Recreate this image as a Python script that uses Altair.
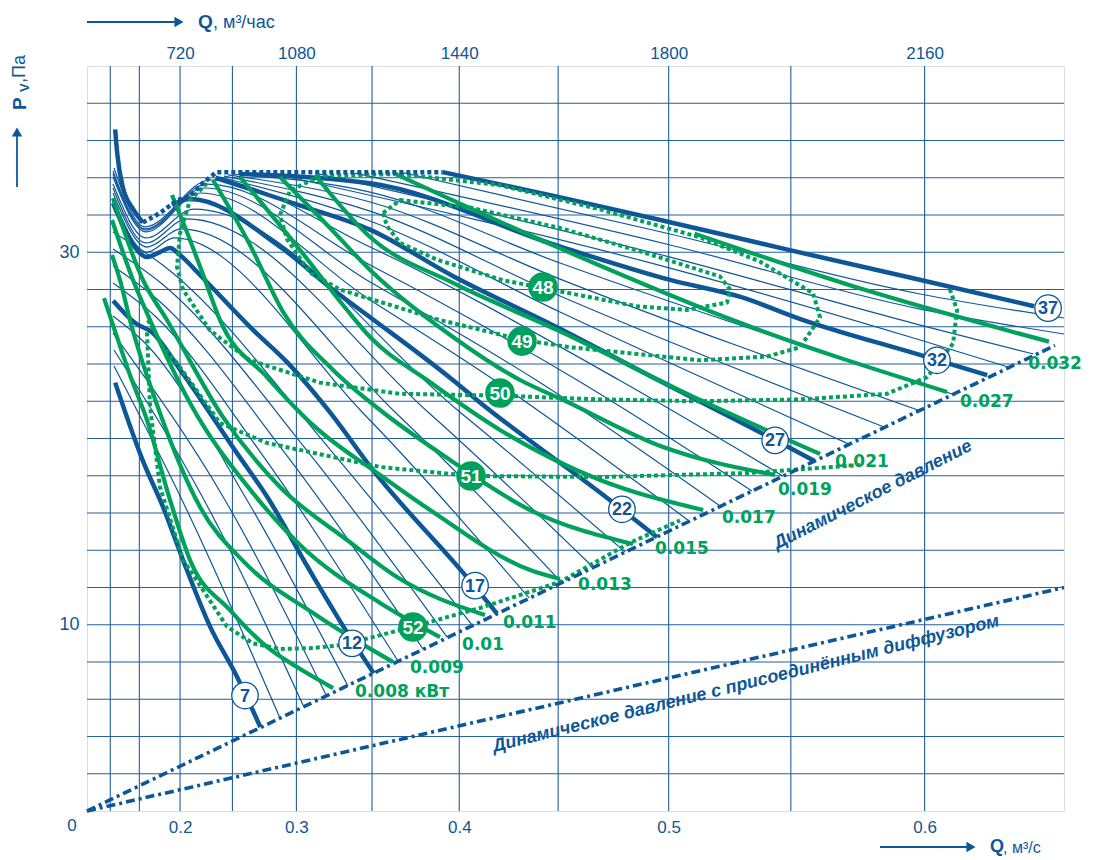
import altair as alt
import pandas as pd

BLUE = "#0d5797"
GREEN = "#00a15c"
GRID = "#245f9e"
FONT = "Liberation Sans"

X_MAX = 0.648
Y_MAX = 40

GRID_Q = [0.1, 0.15, 0.2, 0.25, 0.3, 0.35, 0.4, 0.45, 0.5, 0.55, 0.6]
GRID_P = [2, 4, 6, 8, 10, 12, 14, 16, 18, 20, 22, 24, 26, 28, 30, 32, 34, 36, 38]
BOTTOM_TICKS = [0.2, 0.3, 0.4, 0.5, 0.6]
LEFT_TICKS = [10, 30]

# thick fan curves (setting -> Q m3/s, Pv Pa)
FAN_THICK = {
    "37a": ([0.110, 0.114, 0.124, 0.141, 0.155], [36.6, 35.3, 33.5, 32.3, 31.6]),
    "37b": ([0.391, 0.449, 0.501, 0.550, 0.599, 0.638], [34.3, 33.0, 31.6, 30.1, 28.5, 27.1]),
    "32": ([0.256, 0.349, 0.451, 0.501, 0.530, 0.554, 0.598, 0.622],
           [34.2, 33.7, 30.3, 28.5, 27.6, 26.4, 24.5, 23.4]),
    "27": ([0.235, 0.303, 0.349, 0.397, 0.449, 0.496, 0.544, 0.559],
           [34.0, 32.5, 31.2, 28.7, 26.0, 23.1, 19.9, 18.8]),
    "22": ([0.1911, 0.2104, 0.288, 0.325, 0.349, 0.397, 0.409, 0.474, 0.495],
           [32.54, 32.86, 30.3, 28.0, 26.5, 23.1, 22.1, 16.7, 14.7]),
    "17": ([0.1057, 0.1278, 0.1466, 0.1606, 0.1771, 0.1889, 0.1999, 0.2204, 0.2671, 0.2932,
            0.3232, 0.3506, 0.402, 0.4198],
           [32.64, 31.19, 30.12, 29.74, 30.01, 30.23, 29.85, 28.78, 25.83, 24.1, 21.4, 18.3,
            12.8, 10.6]),
    "12": ([0.106, 0.144, 0.167, 0.200, 0.254, 0.278, 0.308, 0.332, 0.351],
           [27.4, 26.2, 25.7, 23.7, 19.2, 16.9, 13.1, 9.9, 7.4]),
    "7": ([0.110, 0.155, 0.181, 0.203, 0.230, 0.254, 0.273],
          [23.0, 18.8, 16.3, 13.5, 9.9, 7.2, 4.5]),
}

# thin fan curves for the intermediate settings
FAN_THIN = {
    "8": ([0.1077, 0.2021, 0.2880], [23.89, 16.70, 4.99]),
    "9": ([0.1077, 0.2243, 0.3047], [24.75, 16.70, 5.69]),
    "10": ([0.1057, 0.2435, 0.3212], [25.66, 16.70, 6.12]),
    "11": ([0.1057, 0.1579, 0.2622, 0.3349], [26.58, 25.13, 16.70, 6.71]),
    "13": ([0.1057, 0.1710, 0.2735, 0.3656], [28.35, 26.58, 19.22, 8.05]),
    "14": ([0.1057, 0.1747, 0.2917, 0.3800], [29.26, 27.44, 19.22, 8.70]),
    "15": ([0.1057, 0.1783, 0.3089, 0.3934], [30.17, 28.35, 19.22, 9.34]),
    "16": ([0.1057, 0.1819, 0.3252, 0.4068], [31.09, 29.26, 19.22, 9.99]),
    "18": ([0.1057, 0.1606, 0.1934, 0.3444, 0.4359], [32.91, 30.01, 30.77, 21.37, 11.44]),
    "19": ([0.1057, 0.1606, 0.2010, 0.3644, 0.4514], [33.18, 30.28, 31.25, 21.37, 12.30]),
    "20": ([0.1057, 0.1592, 0.2073, 0.3834, 0.4663], [33.45, 30.50, 31.79, 21.37, 13.10]),
    "21": ([0.1057, 0.1592, 0.2145, 0.4009, 0.4809], [33.66, 30.77, 32.32, 21.37, 13.91]),
    "23": ([0.1057, 0.1592, 0.2204, 0.3488, 0.4183, 0.5087], [34.04, 31.09, 33.18, 27.44, 23.14, 15.57]),
    "24": ([0.1057, 0.1592, 0.2243, 0.3488, 0.4393, 0.5216], [34.20, 31.19, 33.45, 28.40, 23.14, 16.38]),
    "25": ([0.1057, 0.1579, 0.2271, 0.3488, 0.4589, 0.5346], [34.36, 31.25, 33.66, 29.32, 23.14, 17.18]),
    "26": ([0.1077, 0.1579, 0.2299, 0.3488, 0.4782, 0.5469], [34.52, 31.36, 33.88, 30.28, 23.14, 17.99]),
    "28": ([0.2391, 0.3488, 0.4509, 0.5723], [34.04, 31.68, 26.79, 19.70]),
    "29": ([0.2427, 0.3488, 0.4509, 0.5853], [34.09, 32.21, 27.65, 20.62]),
    "30": ([0.2462, 0.3488, 0.4509, 0.5976], [34.15, 32.70, 28.56, 21.53]),
    "31": ([0.2497, 0.3488, 0.4509, 0.6098], [34.20, 33.23, 29.42, 22.39]),
    "33": ([0.2843, 0.5006, 0.5984, 0.6292], [34.20, 29.15, 25.29, 23.84]),
    "34": ([0.3131, 0.5006, 0.5984, 0.6377], [34.25, 29.74, 26.09, 24.54]),
    "35": ([0.3394, 0.5006, 0.5984, 0.6480], [34.25, 30.39, 26.95, 25.61]),
    "36": ([0.3668, 0.5006, 0.5984, 0.6480], [34.31, 30.98, 27.76, 26.47]),
}

ENVELOPE_Q = [0.155, 0.177, 0.197, 0.210, 0.223, 0.236, 0.391]
ENVELOPE_P = [31.6, 32.1, 32.8, 33.0, 33.7, 34.3, 34.3]

FAN_LABELS = ["7", "12", "17", "22", "27", "32", "37"]
FAN_LABEL_Q = [0.2606, 0.3375, 0.4084, 0.4795, 0.5438, 0.6044, 0.6427]
FAN_LABEL_P = [6.2, 9.0, 12.1, 16.2, 19.9, 24.2, 27.0]

# power curves (kW)
POWER = {
    "0.008": ([0.0855, 0.1057, 0.1359, 0.1606, 0.1889, 0.2104, 0.2479, 0.2781, 0.3004, 0.3252],
              [27.54, 26.09, 23.41, 20.99, 16.70, 13.48, 10.79, 8.81, 7.73, 6.60]),
    "0.009": ([0.1037, 0.1191, 0.1359, 0.1771, 0.2204, 0.2606, 0.3117, 0.3469, 0.3627],
              [29.85, 28.51, 26.36, 21.37, 16.32, 13.32, 10.63, 8.81, 8.0]),
    "0.01": ([0.1037, 0.1406, 0.1646, 0.2104, 0.2671, 0.3026, 0.3549, 0.3895],
             [31.73, 28.51, 26.36, 21.91, 17.07, 14.28, 11.17, 9.34]),
    "0.011": ([0.1057, 0.1551, 0.1854, 0.2418, 0.2880, 0.3343, 0.3650, 0.4136],
              [32.91, 28.51, 26.36, 21.15, 17.40, 14.55, 12.56, 10.52]),
    "0.013": ([0.1911, 0.2104, 0.2252, 0.2391, 0.2781, 0.3117, 0.3549, 0.3840, 0.4364, 0.4509],
              [33.07, 30.66, 28.51, 26.36, 23.30, 20.72, 18.04, 16.16, 12.94, 12.46]),
    "0.015": ([0.2327, 0.2647, 0.2903, 0.3252, 0.3549, 0.3950, 0.4364, 0.4844],
              [33.88, 30.39, 26.79, 23.68, 21.53, 18.85, 16.16, 14.34]),
    "0.017": ([0.2564, 0.3026, 0.3343, 0.3488, 0.3823, 0.4213, 0.4696, 0.5146],
              [34.04, 30.12, 26.90, 25.45, 23.14, 20.46, 17.77, 16.16]),
    "0.019": ([0.2880, 0.3232, 0.3488, 0.3966, 0.4314, 0.4523, 0.4976, 0.5438],
              [34.04, 31.30, 29.05, 25.45, 23.14, 22.07, 19.54, 18.04]),
    "0.021": ([0.3131, 0.3488, 0.3966, 0.4494, 0.5133, 0.5613],
              [34.15, 30.82, 28.35, 25.83, 22.07, 19.17]),
    "0.027": ([0.363, 0.449, 0.530, 0.608], [34.25, 30.3, 26.2, 22.5]),
    "0.032": ([0.511, 0.580, 0.643], [31.0, 27.9, 25.2]),
}
POWER_LABELS = ["0.008 кВт", "0.009", "0.01", "0.011", "0.013", "0.015", "0.017",
                "0.019", "0.021", "0.027", "0.032"]
POWER_LABEL_Q = [0.3394, 0.3726, 0.4015, 0.4228, 0.4594, 0.4941, 0.5224, 0.5450,
                 0.5670, 0.6125, 0.6360]
POWER_LABEL_P = [6.39, 7.68, 8.91, 10.09, 12.13, 14.07, 15.73, 17.23, 18.74, 21.96, 24.00]

# sound level contours
SOUND = {
    "48": ([0.3567, 0.3668, 0.4057, 0.4509, 0.4862, 0.5216, 0.5257, 0.5245, 0.5078,
            0.4862, 0.4509, 0.4228, 0.3879, 0.3668, 0.3591, 0.3567],
           [32.1, 32.8, 32.4, 31.3, 30.1, 28.7, 28.0, 27.3, 26.9, 27.1, 27.9, 28.5,
            29.6, 30.5, 31.4, 32.1]),
    "49": ([0.2880, 0.2954, 0.3164, 0.3668, 0.4213, 0.4696, 0.5133, 0.5378, 0.5586,
            0.5613, 0.5536, 0.5406, 0.5133, 0.4556, 0.4324, 0.3879, 0.3488, 0.3298,
            0.3096, 0.2932, 0.2880],
           [32.0, 33.3, 34.1, 34.2, 33.6, 32.3, 30.8, 29.5, 27.8, 26.5, 24.9, 24.4,
            24.2, 24.9, 25.3, 26.4, 27.5, 28.0, 28.9, 30.7, 32.0]),
    "50": ([0.2271, 0.2104, 0.1999, 0.1967, 0.2031, 0.2299, 0.2647, 0.3164, 0.3668,
            0.4213, 0.4696, 0.5133, 0.5536, 0.5864, 0.6009, 0.6101, 0.6115, 0.6090],
           [33.7, 32.8, 31.0, 29.2, 28.0, 25.8, 24.2, 23.0, 22.4, 22.3, 22.1, 22.0,
            22.1, 22.4, 23.3, 25.1, 26.9, 28.0]),
    "51": ([0.1619, 0.1807, 0.1967, 0.2391, 0.2781, 0.3549, 0.4063, 0.4696, 0.5338, 0.5764],
           [26.36, 24.91, 24.05, 20.83, 19.76, 18.47, 17.99, 17.93, 18.15, 18.58]),
    "52": ([0.1606, 0.1646, 0.1771, 0.2031, 0.2453, 0.2671, 0.2880, 0.3117, 0.3298,
            0.3488, 0.3743, 0.4110, 0.4509, 0.4831, 0.5048],
           [25.7, 21.7, 17.4, 13.5, 9.9, 9.0, 8.7, 8.75, 8.9, 9.3, 9.9, 10.9, 12.3,
            14.4, 15.6]),
}
SOUND_LABELS = ["48", "49", "50", "51", "52"]
SOUND_LABEL_Q = [0.4427, 0.4324, 0.4213, 0.4063, 0.3743]
SOUND_LABEL_P = [28.13, 25.23, 22.44, 17.99, 9.88]

DYN_Q = [0.0, 0.645]
DYN_P = [0.0, 25.0]
DIFF_Q = [0.0, 0.648]
DIFF_P = [0.0, 12.0]

DYN_TEXT = ["Динамическое давление", "Динамическое давление с присоединённым диффузором"]
DYN_TEXT_Q = [0.5812, 0.5322]
DYN_TEXT_P = [16.97, 6.82]
DYN_TEXT_ANGLE = [333, 346]


def curves_df(curves, group):
    rows = []
    for name, (qs, ps) in curves.items():
        for i, (q, p) in enumerate(zip(qs, ps)):
            rows.append({"curve": f"{group}-{name}", "Q": q, "P": p, "i": i})
    return pd.DataFrame(rows)


xs = alt.Scale(type="pow", exponent=2, domain=[0, X_MAX], nice=False, zero=True)
ys = alt.Scale(domain=[0, Y_MAX], nice=False, zero=True)


def X(axis=None):
    return alt.X("Q:Q", scale=xs, axis=axis)


def Y(axis=None):
    return alt.Y("P:Q", scale=ys, axis=axis)


def line_layer(df, color, width, dash=None):
    kw = dict(color=color, strokeWidth=width, strokeCap="butt", strokeJoin="round",
              interpolate="monotone")
    if dash:
        kw["strokeDash"] = dash
        kw["interpolate"] = "linear"
    return alt.Chart(df).mark_line(**kw).encode(
        x=X(), y=Y(), detail="curve:N", order="i:Q")


vgrid = alt.Chart(pd.DataFrame({"Q": GRID_Q})).mark_rule(color=GRID, strokeWidth=1.1).encode(
    x=X(alt.Axis(orient="bottom", values=BOTTOM_TICKS, format=".1f", grid=False, ticks=False,
                 domain=False, labelFontSize=17, labelColor=BLUE, labelFont=FONT,
                 labelPadding=8, title=None)))
top_axis = alt.Chart(pd.DataFrame({"Q": BOTTOM_TICKS})).mark_point(opacity=0).encode(
    x=X(alt.Axis(orient="top", values=BOTTOM_TICKS, labelExpr="format(round(datum.value*3600),'d')",
                 grid=False, ticks=False, domain=False, labelFontSize=17, labelColor=BLUE,
                 labelFont=FONT, labelPadding=4, title=None)))
hgrid = alt.Chart(pd.DataFrame({"P": GRID_P})).mark_rule(color=GRID, strokeWidth=1.1).encode(
    y=Y(alt.Axis(orient="left", values=LEFT_TICKS, grid=False, ticks=False, domain=False,
                 labelFontSize=18, labelColor=BLUE, labelFont=FONT, labelPadding=8,
                 title=None)))

thin = line_layer(curves_df(FAN_THIN, "t"), BLUE, 1.2)
thick = line_layer(curves_df(FAN_THICK, "f"), BLUE, 4.5)
env = line_layer(pd.DataFrame({"curve": "env", "Q": ENVELOPE_Q, "P": ENVELOPE_P,
                               "i": range(len(ENVELOPE_Q))}), BLUE, 4.5, [4, 3])
power = line_layer(curves_df(POWER, "p"), GREEN, 4.2)
sound = line_layer(curves_df(SOUND, "s"), GREEN, 4, [4, 3])
dyn_df = pd.concat([
    pd.DataFrame({"curve": "dyn", "Q": DYN_Q, "P": DYN_P, "i": [0, 1]}),
    pd.DataFrame({"curve": "diff", "Q": DIFF_Q, "P": DIFF_P, "i": [0, 1]}),
])
dyn = line_layer(dyn_df, BLUE, 3.6, [9, 4, 3, 4])

dyn_text_df = pd.DataFrame({"t": DYN_TEXT, "Q": DYN_TEXT_Q, "P": DYN_TEXT_P, "a": DYN_TEXT_ANGLE})
dyn_text = alt.layer(*[
    alt.Chart(dyn_text_df.iloc[[k]]).mark_text(
        font=FONT, fontSize=18, fontWeight="bold", fontStyle="italic", color=BLUE,
        angle=int(DYN_TEXT_ANGLE[k]), align="center", baseline="middle").encode(
        x=X(), y=Y(), text="t:N")
    for k in range(len(DYN_TEXT))
])

fan_lab_df = pd.DataFrame({"t": FAN_LABELS, "Q": FAN_LABEL_Q, "P": FAN_LABEL_P})
fan_circ = alt.Chart(fan_lab_df).mark_point(
    shape="circle", filled=True, fill="white", stroke=BLUE, strokeWidth=1.3, size=700,
    opacity=1).encode(x=X(), y=Y())
fan_txt = alt.Chart(fan_lab_df).mark_text(
    font=FONT, fontSize=18, fontWeight="bold", color=BLUE, baseline="middle", dy=1).encode(
    x=X(), y=Y(), text="t:N")

snd_lab_df = pd.DataFrame({"t": SOUND_LABELS, "Q": SOUND_LABEL_Q, "P": SOUND_LABEL_P})
snd_circ = alt.Chart(snd_lab_df).mark_point(
    shape="circle", filled=True, fill=GREEN, stroke=GREEN, size=760, opacity=1).encode(
    x=X(), y=Y())
snd_txt = alt.Chart(snd_lab_df).mark_text(
    font=FONT, fontSize=19, fontWeight="bold", color="white", baseline="middle", dy=1).encode(
    x=X(), y=Y(), text="t:N")

pw_lab_df = pd.DataFrame({"t": POWER_LABELS, "Q": POWER_LABEL_Q, "P": POWER_LABEL_P})
pw_txt = alt.Chart(pw_lab_df).mark_text(
    font="DejaVu Sans", fontSize=17, fontWeight="bold", color=GREEN, align="left",
    baseline="middle").encode(x=X(), y=Y(), text="t:N")

zero_txt = alt.Chart(pd.DataFrame({"Q": [0.0], "P": [0.0], "t": ["0"]})).mark_text(
    font=FONT, fontSize=17, color=BLUE, dx=-15, dy=15, baseline="middle").encode(
    x=X(), y=Y(), text="t:N")

one = pd.DataFrame({"k": [0]})


def ptext(txt, x, y, size=18, weight="normal", angle=0, align="left"):
    return alt.Chart(one).mark_text(
        text=txt, font=FONT, fontSize=size, fontWeight=weight, color=BLUE, angle=angle,
        align=align, baseline="middle").encode(x=alt.value(x), y=alt.value(y))


def hrule(x1, x2, y):
    return alt.Chart(one).mark_rule(color=BLUE, strokeWidth=1.8).encode(
        x=alt.value(x1), x2=alt.value(x2), y=alt.value(y))


def vrule(x, y1, y2):
    return alt.Chart(one).mark_rule(color=BLUE, strokeWidth=1.8).encode(
        x=alt.value(x), y=alt.value(y1), y2=alt.value(y2))


def head(shape, x, y):
    return alt.Chart(one).mark_point(shape=shape, filled=True, color=BLUE, size=110,
                                     opacity=1).encode(x=alt.value(x), y=alt.value(y))


titles = [
    hrule(0, 88, -44), head("triangle-right", 92, -44),
    ptext("Q", 111, -44, 19, "bold"), ptext(", м³/час", 126, -43, 18),
    vrule(-70, 121, 70), head("triangle-up", -70, 66),
    ptext("P", -67, 44, 19, "bold", 270), ptext("V", -62, 26, 13, "bold", 270),
    ptext(" ,Па", -67, 17, 18, "normal", 270),
    hrule(793, 880, 781), head("triangle-right", 884, 781),
    ptext("Q", 903, 781, 18, "bold"), ptext(", м³/с", 916, 782, 16),
]

chart = alt.layer(
    vgrid, top_axis, hgrid, thin, thick, power, sound, env, dyn,
    dyn_text, fan_circ, fan_txt, snd_circ, snd_txt, pw_txt, zero_txt, *titles
).resolve_axis(x="independent", y="independent").properties(
    width=977, height=745,
    padding={"left": 79, "top": 58, "right": 36, "bottom": 48},
    autosize=alt.AutoSizeParams(type="none"),
).configure_view(stroke=GRID, strokeWidth=1.6).configure(background="white")

chart.save("out.html", embed_options={"renderer": "svg", "actions": False})
